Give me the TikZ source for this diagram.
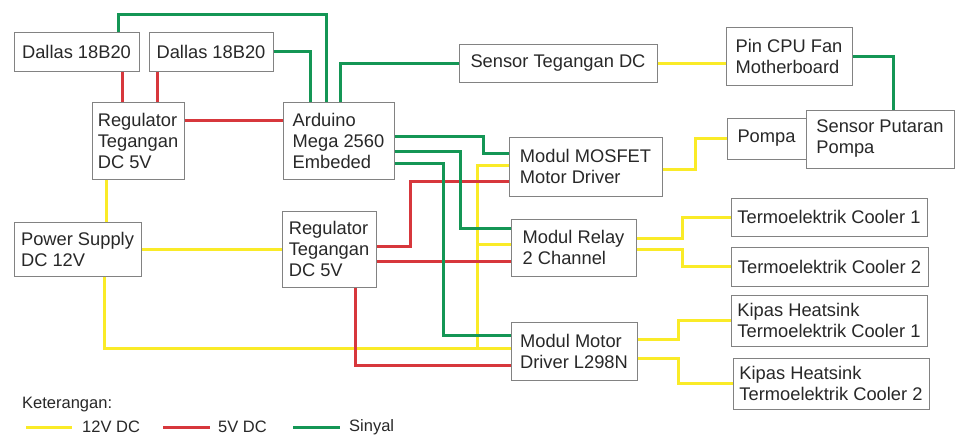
\documentclass[tikz,border=0pt]{standalone}
\usepackage{fontspec}
\setmainfont{Liberation Sans}
\usetikzlibrary{calc}
\definecolor{cy}{RGB}{250,235,40}
\definecolor{cr}{RGB}{215,55,60}
\definecolor{cg}{RGB}{20,150,85}
\definecolor{cb}{RGB}{130,130,130}
\definecolor{ct}{RGB}{40,40,40}
\begin{document}
\begin{tikzpicture}[x=1pt,y=-1pt,
  box/.style={draw=cb, line width=1pt, fill=white, inner sep=0pt, align=left, text=ct,
    font=\fontsize{18.3}{21}\selectfont},
  pw/.style={cy, line width=3pt},
  v5/.style={cr, line width=3pt},
  sig/.style={cg, line width=3pt},
  leg/.style={text=ct, font=\fontsize{16.5}{19}\selectfont, inner sep=0pt},
]
\useasboundingbox (0,0) rectangle (955,437);
\fill[white] (0,0) rectangle (955,437);

% boxes
\node[box, minimum width=125pt, minimum height=39pt] (d1) at (76.5,51.5) {Dallas 18B20};
\node[box, minimum width=124pt, minimum height=39pt] (d2) at (211,51.5) {Dallas 18B20};
\node[box, minimum width=92pt, minimum height=77pt] (reg1) at (138,140.5) {Regulator\\Tegangan\\DC 5V};
\node[box, minimum width=111pt, minimum height=77pt] (ard) at (338.5,140.5) {Arduino\\Mega 2560\\Embeded};
\node[box, minimum width=198pt, minimum height=38pt] (sens) at (558,63) {Sensor Tegangan DC};
\node[box, minimum width=126pt, minimum height=58pt] (cpu) at (789,56) {Pin CPU Fan\\Motherboard};
\node[box, minimum width=79pt, minimum height=41pt] (pompa) at (766.5,138.5) {Pompa};
\node[box, minimum width=148pt, minimum height=58pt] (sput) at (880,139) {Sensor Putaran\\Pompa};
\node[box, minimum width=153pt, minimum height=59pt] (mos) at (585.5,166.5) {Modul MOSFET\\Motor Driver};
\node[box, minimum width=125pt, minimum height=57pt] (rel) at (573.5,247.5) {Modul Relay\\2 Channel};
\node[box, minimum width=126pt, minimum height=58pt] (l298) at (574,351) {Modul Motor\\Driver L298N};
\node[box, minimum width=127pt, minimum height=54pt] (ps) at (77.5,249) {Power Supply\\DC 12V};
\node[box, minimum width=94pt, minimum height=76pt] (reg2) at (329,249) {Regulator\\Tegangan\\DC 5V};
\node[box, minimum width=196pt, minimum height=38pt] (tc1) at (829,217) {Termoelektrik Cooler 1};
\node[box, minimum width=197pt, minimum height=39pt] (tc2) at (829.5,266.5) {Termoelektrik Cooler 2};
\node[box, minimum width=196pt, minimum height=51pt] (k1) at (829,320.5) {Kipas Heatsink\\Termoelektrik Cooler 1};
\node[box, minimum width=196pt, minimum height=51pt] (k2) at (831,383.5) {Kipas Heatsink\\Termoelektrik Cooler 2};

% 12V DC (yellow)
\coordinate (y1) at ([xshift=15pt]reg1.south west);
\draw[pw] (y1) -- (y1 |- ps.north);
\draw[pw] (ps.east) -- (reg2.west);
\coordinate (y2) at ([xshift=91pt]ps.south west);
\coordinate (y3) at ([yshift=-27pt]l298.north west);
\draw[pw] (y2) |- (y3);
\coordinate (y4) at ([yshift=-29pt]mos.north west);
\coordinate (y5) at ([xshift=-33pt]y3);
\draw[pw] (y4) -| (y5);
\coordinate (y6) at ([yshift=-26pt]rel.north west);
\draw[pw] (y6) -- (y6 -| y5);
\draw[pw] (sens.east) -- (sens.east -| cpu.west);
\coordinate (y7) at ([yshift=-33pt]mos.north east);
\draw[pw] (y7) -| ([xshift=-31pt]pompa.west) -- (pompa.west);
\coordinate (y8) at ([yshift=-20pt]rel.north east);
\draw[pw] (y8) -| ([xshift=-48pt]tc1.west) -- (tc1.west);
\coordinate (y9) at ([yshift=-31pt]rel.north east);
\draw[pw] (y9) -| ([xshift=-48pt]tc2.west) -- (tc2.west);
\coordinate (y10) at ([yshift=-18pt]l298.north east);
\draw[pw] (y10) -| ([xshift=-52pt]k1.west) -- (k1.west);
\coordinate (y11) at ([yshift=-37pt]l298.north east);
\draw[pw] (y11) -| ([xshift=-54pt]k2.west) -- (k2.west);

% 5V DC (red)
\coordinate (r1) at ([xshift=109pt]d1.south west);
\draw[v5] (r1) -- (r1 |- reg1.north);
\coordinate (r2) at ([xshift=9pt]d2.south west);
\draw[v5] (r2) -- (r2 |- reg1.north);
\coordinate (r3) at ([yshift=-19pt]reg1.north east);
\draw[v5] (r3) -- (r3 -| ard.west);
\coordinate (r4) at ([yshift=-45pt]mos.north west);
\coordinate (r5) at ([yshift=-36pt]reg2.north east);
\draw[v5] (r4) -| ([xshift=34pt]r5) -- (r5);
\coordinate (r6) at ([yshift=-51pt]reg2.north east);
\draw[v5] (r6) -- (r6 -| rel.west);
\coordinate (r7) at ([xshift=74pt]reg2.south west);
\coordinate (r8) at ([yshift=-44pt]l298.north west);
\draw[v5] (r7) |- (r8);

% Sinyal (green)
\coordinate (s1) at ([xshift=105pt]d1.north west);
\draw[sig] (s1) -- ++(0,-17) -| ([xshift=44pt]ard.north west);
\draw[sig] (d2.east) -| ([xshift=28pt]ard.north west);
\draw[sig] ([xshift=58pt]ard.north west) |- (sens.west);
\coordinate (s2) at ([yshift=-35pt]ard.north east);
\coordinate (s3) at ([yshift=-17pt]mos.north west);
\draw[sig] (s2) -| ([xshift=-25pt]s3) -- (s3);
\coordinate (s4) at ([yshift=-50pt]ard.north east);
\coordinate (s5) at ([yshift=-10pt]rel.north west);
\draw[sig] (s4) -| ([xshift=-50pt]s5) -- (s5);
\coordinate (s6) at ([yshift=-62pt]ard.north east);
\coordinate (s7) at ([yshift=-14pt]l298.north west);
\draw[sig] (s6) -| ([xshift=-67pt]s7) -- (s7);
\draw[sig] (cpu.east) -| ([xshift=88pt]sput.north west);

% legend
\node[leg, anchor=west] (ket) at (22,405) {Keterangan:};
\coordinate (la) at (26,427); \coordinate (lb) at (72,427);
\draw[pw] (la) -- (lb);
\node[leg, anchor=west] (l1) at (82,427) {12V DC};
\coordinate (lc) at (163,427); \coordinate (ld) at (210,427);
\draw[v5] (lc) -- (ld);
\node[leg, anchor=west] (l2) at (218,427) {5V DC};
\coordinate (le) at (293,427); \coordinate (lf) at (340,427);
\draw[sig] (le) -- (lf);
\node[leg, anchor=west] (l3) at (349,427) {Sinyal};
\end{tikzpicture}
\end{document}
